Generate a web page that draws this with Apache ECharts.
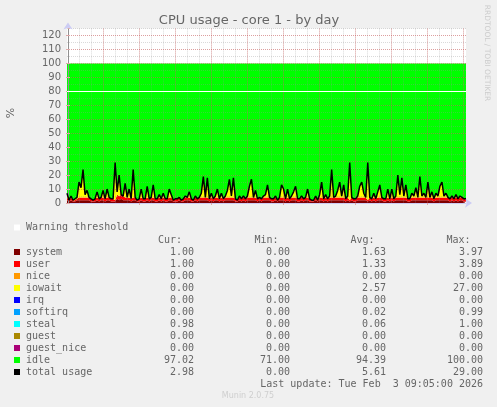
<!DOCTYPE html>
<html lang="en">
<head>
    <meta charset="utf-8" />
    <title>CPU usage - core 1 - by day</title>
    <script src="https://cdn.jsdelivr.net/npm/echarts@6/dist/echarts.min.js"></script>
    <style type="text/css">
        html, body { margin: 0; padding: 0; background: #f0f0f0; }
    </style>
</head>
<body>
    <div id="main" style="width:497px;height:407px;"></div>

    <script type="text/javascript">
        // samples are 10 minutes apart, first one at Mon 00:00
        var stepMinutes = 10;

        var systemData = [
            2,1,2,1,1,2,2,2,2,2, 2,2,1,1,1,2,1,2,2,1, 2,2,1,1,1,3,2,3,2,2, 2,2,1,2,2,1,1,2,1,1,
            2,1,2,2,1,1,2,1,2,1, 1,2,2,1,1,1,2,1,1,2, 2,2,1,1,2,1,2,2,2,2, 2,1,2,1,2,2,1,2,1,2,
            2,2,2,2,1,1,2,1,2,1, 2,2,2,2,2,1,2,1,2,2, 2,2,1,1,2,1,2,2,2,1, 2,1,2,2,2,1,1,2,1,2,
            2,1,1,1,2,1,2,2,1,2, 1,2,2,2,2,2,2,2,2,1, 2,1,2,1,1,2,2,2,2,2, 1,2,1,2,1,2,2,2,1,1,
            2,1,2,1,2,2,2,2,2,2, 1,1,2,2,2,2,2,2,2,2, 2,2,2,1,2,2,2,2,2,2, 2,1,2,1,2,1,2,2,1,1
        ];
        var userData = [
            2,1,2,1,1,1,2,2,2,2, 2,2,2,1,2,2,2,2,2,2, 2,2,2,2,1,3,3,3,3,2, 2,2,2,2,2,1,2,2,2,2,
            2,2,2,2,2,2,2,2,2,2, 2,2,2,1,2,2,2,1,2,2, 2,2,2,1,2,2,2,2,2,2, 2,2,2,2,2,2,2,2,2,2,
            2,2,2,2,2,1,2,2,2,2, 2,2,2,2,2,2,2,2,2,2, 2,2,2,2,2,1,2,2,2,2, 2,2,2,2,2,2,2,2,2,2,
            2,2,1,1,2,1,2,2,2,2, 2,2,2,2,2,2,2,2,2,2, 2,1,2,2,2,2,2,2,2,2, 1,2,2,2,2,2,2,2,2,2,
            2,2,2,2,2,2,2,2,2,2, 2,2,2,2,2,2,2,2,2,2, 2,2,2,2,2,2,2,2,2,2, 2,2,2,2,2,2,2,2,2,2
        ];
        var iowaitData = [
            3,0,1,0,1,1,11,7,20,2, 5,0,0,0,0,4,0,0,5,0, 6,0,0,0,27,2,15,0,0,10, 0,6,0,20,0,0,0,6,0,0,
            8,0,0,9,0,0,2,0,3,0, 0,6,2,0,0,0,0,0,0,1, 0,4,0,0,1,0,0,3,15,0, 14,0,3,0,1,6,0,3,0,1,
            5,13,1,14,0,0,1,0,1,0, 1,8,13,0,5,0,0,0,1,2, 9,0,0,0,1,0,0,9,6,0, 6,0,1,4,8,0,0,1,0,0,
            6,0,0,0,1,0,2,11,0,2, 0,1,20,0,1,5,11,1,9,0, 1,27,0,0,0,1,8,11,3,0, 27,0,0,3,0,4,9,0,0,0,
            6,0,6,0,1,16,2,14,1,9, 0,0,3,1,7,0,15,1,3,0, 11,0,4,0,3,1,8,11,1,3, 0,0,1,0,2,0,1,0,0,0
        ];
        var idleData = [
            93,98,95,98,97,96,85,89,76,94, 91,96,97,98,97,92,97,96,91,97, 90,96,97,97,71,92,80,94,95,86, 96,90,97,76,96,98,97,90,97,97,
            88,97,96,87,97,97,94,97,93,97, 97,90,94,98,97,97,96,98,97,95, 96,92,97,98,95,97,96,93,81,96, 82,97,93,97,95,90,97,93,97,95,
            91,83,95,82,97,98,95,97,95,97, 95,88,83,96,91,97,96,97,95,94, 87,96,97,97,95,98,96,87,90,97, 90,97,95,92,88,97,97,95,97,96,
            90,97,98,98,95,98,94,85,97,94, 97,95,76,96,95,91,85,95,87,97, 95,71,96,97,97,95,88,85,93,96, 71,96,97,93,97,92,87,96,97,97,
            90,97,90,97,95,80,94,82,95,87, 97,97,93,95,89,96,81,95,93,96, 85,96,92,97,93,95,88,85,95,93, 96,97,95,97,94,97,95,96,97,97
        ];
        var totalData = [
            7,2,5,2,3,4,15,11,24,6, 9,4,3,2,3,8,3,4,9,3, 10,4,3,3,29,8,20,6,5,14, 4,10,3,24,4,2,3,10,3,3,
            12,3,4,13,3,3,6,3,7,3, 3,10,6,2,3,3,4,2,3,5, 4,8,3,2,5,3,4,7,19,4, 18,3,7,3,5,10,3,7,3,5,
            9,17,5,18,3,2,5,3,5,3, 5,12,17,4,9,3,4,3,5,6, 13,4,3,3,5,2,4,13,10,3, 10,3,5,8,12,3,3,5,3,4,
            10,3,2,2,5,2,6,15,3,6, 3,5,24,4,5,9,15,5,13,3, 5,29,4,3,3,5,12,15,7,4, 29,4,3,7,3,8,13,4,3,3,
            10,3,10,3,5,20,6,18,5,13, 3,3,7,5,11,4,19,5,7,4, 15,4,8,3,7,5,12,15,5,7, 4,3,5,3,6,3,5,4,3,3
        ];
        var warningLevel = 80;

        var tickLabels = ['Mon 00:00', 'Mon 06:00', 'Mon 12:00', 'Mon 18:00', 'Tue 00:00', 'Tue 06:00'];

        var legendNames = ['system', 'user', 'nice', 'iowait', 'irq', 'softirq', 'steal', 'guest', 'guest_nice', 'idle', 'total usage'];
        var legendColors = ['#7f0000', '#ff0000', '#ff9900', '#ffff00', '#0000ff', '#00a0ff', '#00ffff', '#aa8800', '#aa0077', '#00ff00', '#000000'];
        var curValues = ['1.00', '1.00', '0.00', '0.00', '0.00', '0.00', '0.98', '0.00', '0.00', '97.02', '2.98'];
        var minValues = ['0.00', '0.00', '0.00', '0.00', '0.00', '0.00', '0.00', '0.00', '0.00', '71.00', '0.00'];
        var avgValues = ['1.63', '1.33', '0.00', '2.57', '0.00', '0.02', '0.06', '0.00', '0.00', '94.39', '5.61'];
        var maxValues = ['3.97', '3.89', '0.00', '27.00', '0.00', '0.99', '1.00', '0.00', '0.00', '100.00', '29.00'];

        var textColor = '#666666';
        var monoFont = '"DejaVu Sans Mono", monospace';
        var redGrid = 'rgba(225,70,70,0.4)';
        var grayGrid = 'rgba(150,150,150,0.35)';
        var arrowBlue = '#ccccf4';
        var xMin = -5, xMax = 1990;

        // hidden category axis carries the series, stacks only sum y on a category axis
        var sampleTimes = totalData.map(function (v, i) { return i * stepMinutes; });

        function stacked(name, color, arr) {
            return {
                name: name, type: 'line', stack: 'cpu', data: arr, xAxisIndex: 3,
                showSymbol: false, silent: true, animation: false,
                lineStyle: { width: 0 }, itemStyle: { color: color },
                areaStyle: { color: color, opacity: 1 }
            };
        }

        function monoText(x, y, str, align, fill) {
            return {
                type: 'text', x: x, y: y, silent: true,
                style: { text: str, font: '10px ' + monoFont, fill: fill || textColor, align: align || 'left', verticalAlign: 'middle' }
            };
        }

        var graphics = [];
        graphics.push({ type: 'rect', shape: { x: 14, y: 224.5, width: 6, height: 6 }, style: { fill: '#ffffff' } });
        graphics.push(monoText(26, 227.5, 'Warning threshold'));
        graphics.push(monoText(158, 240, 'Cur:'));
        graphics.push(monoText(254.5, 240, 'Min:'));
        graphics.push(monoText(350.5, 240, 'Avg:'));
        graphics.push(monoText(446.5, 240, 'Max:'));
        legendNames.forEach(function (name, i) {
            var y = 252 + i * 12;
            graphics.push({ type: 'rect', shape: { x: 14, y: y - 3, width: 6, height: 6 }, style: { fill: legendColors[i] } });
            graphics.push(monoText(26, y, name));
            graphics.push(monoText(194, y, curValues[i], 'right'));
            graphics.push(monoText(290, y, minValues[i], 'right'));
            graphics.push(monoText(386, y, avgValues[i], 'right'));
            graphics.push(monoText(483, y, maxValues[i], 'right'));
        });
        graphics.push(monoText(483, 384, 'Last update: Tue Feb  3 09:05:00 2026', 'right'));
        graphics.push({
            type: 'text', x: 248, y: 396, silent: true,
            style: { text: 'Munin 2.0.75', font: '8px "DejaVu Sans"', fill: '#cfcfcf', align: 'center', verticalAlign: 'middle' }
        });
        graphics.push({
            type: 'text', x: 11, y: 113, rotation: Math.PI / 2, silent: true,
            style: { text: '%', font: '11px "DejaVu Sans"', fill: textColor, align: 'center', verticalAlign: 'middle' }
        });
        graphics.push({
            type: 'text', x: 487, y: 53, rotation: -Math.PI / 2, silent: true,
            style: { text: 'RRDTOOL / TOBI OETIKER', font: '7.5px "DejaVu Sans"', fill: '#cccccc', align: 'center', verticalAlign: 'middle' }
        });

        var myChart = echarts.init(document.getElementById('main'));

        var option = {
            backgroundColor: '#f0f0f0',
            animation: false,
            title: {
                text: 'CPU usage - core 1 - by day',
                left: 244, top: 9, textAlign: 'center',
                textStyle: { fontFamily: 'DejaVu Sans', fontSize: 13, fontWeight: 'normal', color: textColor }
            },
            grid: { left: 67, top: 28.6, width: 399, height: 174.4, backgroundColor: '#ffffff', show: true, borderWidth: 0 },
            xAxis: [{
                // labelled every 6 hours
                type: 'value', min: xMin, max: xMax, interval: 360, z: 6,
                axisLine: { show: true, onZero: false, symbol: ['none', 'arrow'], symbolSize: [7, 7], symbolOffset: [0, 6], lineStyle: { color: arrowBlue } },
                axisTick: { show: true, length: 2, lineStyle: { color: '#e0a8a8' } },
                axisLabel: {
                    showMinLabel: false, showMaxLabel: false, margin: 5,
                    fontFamily: 'DejaVu Sans', fontSize: 10, color: textColor,
                    formatter: function (v) { return tickLabels[v / 360] || ''; }
                },
                splitLine: { show: false }
            }, {
                // red every 3 hours
                type: 'value', min: xMin, max: xMax, interval: 180, z: 5,
                axisLine: { show: false }, axisTick: { show: false }, axisLabel: { show: false },
                splitLine: { show: true, showMinLine: false, showMaxLine: false, lineStyle: { color: redGrid, type: [1, 1] } }
            }, {
                // gray every hour
                type: 'value', min: xMin, max: xMax, interval: 60, z: 4,
                axisLine: { show: false }, axisTick: { show: false }, axisLabel: { show: false },
                splitLine: { show: true, showMinLine: false, showMaxLine: false, lineStyle: { color: grayGrid, type: [1, 1] } }
            }, {
                type: 'category', data: sampleTimes, boundaryGap: false, show: false
            }],
            yAxis: [{
                type: 'value', min: 0, max: 125, interval: 10, z: 6,
                axisLine: { show: true, symbol: ['none', 'arrow'], symbolSize: [7, 7], symbolOffset: [0, 6], lineStyle: { color: arrowBlue } },
                axisTick: { show: true, length: 2, lineStyle: { color: '#e0a8a8' } },
                axisLabel: {
                    showMaxLabel: false, margin: 6,
                    fontFamily: 'DejaVu Sans', fontSize: 10, color: textColor
                },
                splitLine: { show: true, showMinLine: false, showMaxLine: false, lineStyle: { color: redGrid, type: [1, 1] } }
            }, {
                type: 'value', min: 0, max: 125, interval: 5, z: 4, position: 'left',
                axisLine: { show: false }, axisTick: { show: false }, axisLabel: { show: false },
                splitLine: { show: true, showMinLine: false, lineStyle: { color: grayGrid, type: [1, 1] } }
            }, {
                type: 'value', min: 0, max: 125, interval: 10, z: 6, position: 'right',
                axisLine: { show: true, lineStyle: { color: '#909090' } },
                axisTick: { show: true, length: 2, lineStyle: { color: '#e0a8a8' } },
                axisLabel: { show: false },
                splitLine: { show: false }
            }],
            series: [
                stacked('system', '#7f0000', systemData),
                stacked('user', '#ff0000', userData),
                stacked('iowait', '#ffff00', iowaitData),
                stacked('idle', '#00ff00', idleData),
                {
                    name: 'total usage', type: 'line', data: totalData, z: 8, xAxisIndex: 3,
                    showSymbol: false, silent: true, animation: false,
                    lineStyle: { color: '#000000', width: 1.5 },
                    markLine: {
                        silent: true, symbol: 'none', label: { show: false }, animation: false, z: 8,
                        lineStyle: { color: '#ffffff', width: 1, type: 'solid' },
                        data: [{ yAxis: warningLevel }]
                    }
                }
            ],
            graphic: graphics
        };
        myChart.setOption(option, true);
    </script>
</body>
</html>
